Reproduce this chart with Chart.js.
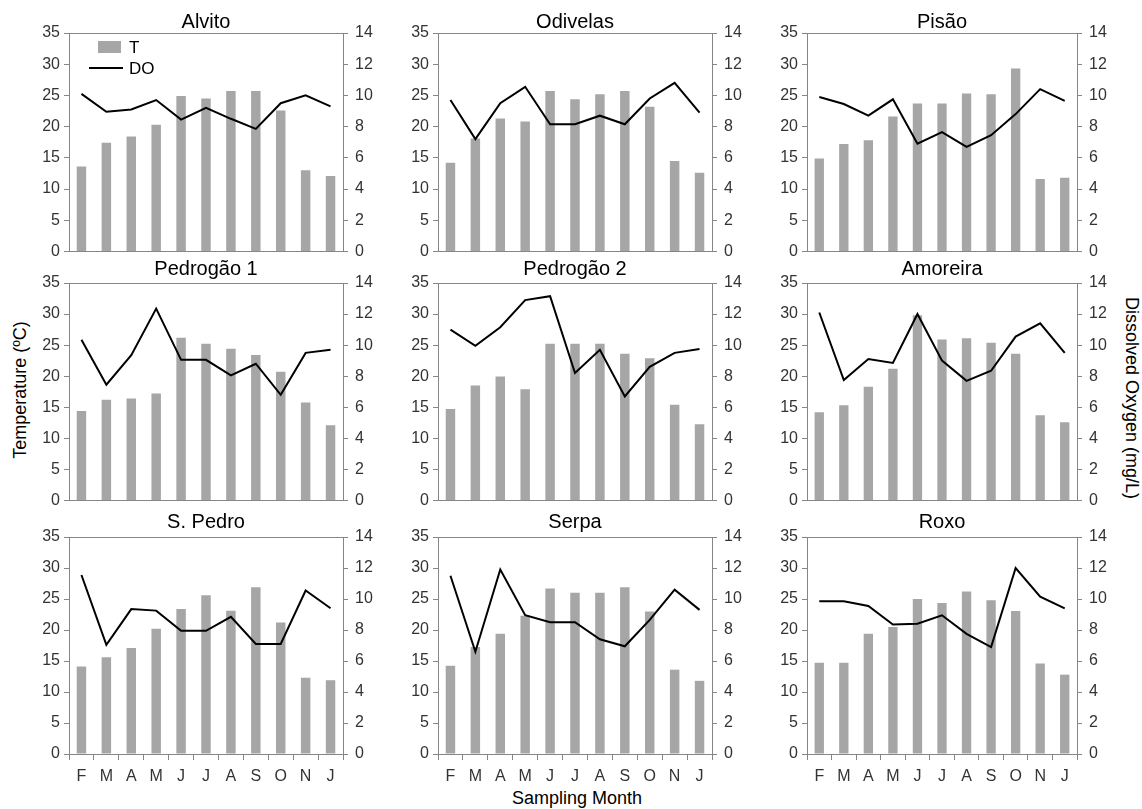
<!DOCTYPE html>
<html>
<head>
<meta charset="utf-8">
<title>Temperature and dissolved oxygen by reservoir</title>
<script src="https://cdn.jsdelivr.net/npm/chart.js@4.4.0/dist/chart.umd.min.js"></script>
<style>
  body { margin: 0; background: #fff; }
  #page { position: relative; width: 1142px; height: 809px; overflow: hidden; background: #fff;
          font-family: "Liberation Sans", Arial, sans-serif; color: #000; }
  #page canvas { position: absolute; }
  .axis-title { position: absolute; font-size: 18px; white-space: nowrap; }
  #yLeftTitle { left: 20px; top: 390px; transform: translate(-50%, -50%) rotate(-90deg); }
  #yRightTitle { left: 1131px; top: 398px; transform: translate(-50%, -50%) rotate(90deg); }
  #xTitle { left: 577px; top: 798px; transform: translate(-50%, -50%); }
</style>
</head>
<body>
<div id="page">
  <div class="axis-title" id="yLeftTitle">Temperature (ºC)</div>
  <div class="axis-title" id="yRightTitle">Dissolved Oxygen (mg/L)</div>
  <div class="axis-title" id="xTitle">Sampling Month</div>
</div>
<script>
const months = ["F", "M", "A", "M", "J", "J", "A", "S", "O", "N", "J"];
const sites = ["Alvito", "Odivelas", "Pisão", "Pedrogão 1", "Pedrogão 2", "Amoreira", "S. Pedro", "Serpa", "Roxo"];
const tempTicks = [0, 5, 10, 15, 20, 25, 30, 35];
const doTicks = [0, 2, 4, 6, 8, 10, 12, 14];

// water temperature (ºC), Feb -> Jan
const tAlvito = [13.6, 17.4, 18.4, 20.3, 24.9, 24.5, 25.7, 25.7, 22.6, 13.0, 12.1];
const tOdivelas = [14.2, 18.1, 21.3, 20.8, 25.7, 24.4, 25.2, 25.7, 23.2, 14.5, 12.6];
const tPisao = [14.9, 17.2, 17.8, 21.6, 23.7, 23.7, 25.3, 25.2, 29.3, 11.6, 11.8];
const tPedrogao1 = [14.4, 16.2, 16.4, 17.2, 26.2, 25.2, 24.4, 23.4, 20.7, 15.75, 12.1];
const tPedrogao2 = [14.7, 18.5, 19.95, 17.9, 25.2, 25.2, 25.2, 23.6, 22.9, 15.4, 12.25];
const tAmoreira = [14.2, 15.3, 18.3, 21.2, 29.8, 25.9, 26.1, 25.4, 23.6, 13.7, 12.6];
const tSPedro = [14.1, 15.6, 17.1, 20.2, 23.4, 25.6, 23.1, 26.9, 21.2, 12.3, 11.9];
const tSerpa = [14.25, 17.25, 19.4, 22.3, 26.7, 26.0, 26.0, 26.9, 23.0, 13.6, 11.8];
const tRoxo = [14.7, 14.7, 19.4, 20.5, 25.0, 24.35, 26.2, 24.8, 23.05, 14.6, 12.8];

// dissolved oxygen (mg/L)
const doAlvito = [10.1, 8.95, 9.1, 9.7, 8.45, 9.2, 8.5, 7.85, 9.5, 10.0, 9.3];
const doOdivelas = [9.7, 7.2, 9.5, 10.55, 8.15, 8.15, 8.7, 8.15, 9.8, 10.8, 8.9];
const doPisao = [9.9, 9.45, 8.7, 9.75, 6.9, 7.65, 6.7, 7.45, 8.8, 10.4, 9.65];
const doPedrogao1 = [10.35, 7.45, 9.35, 12.35, 9.05, 9.05, 8.05, 8.8, 6.8, 9.5, 9.7];
const doPedrogao2 = [11.0, 9.95, 11.15, 12.9, 13.15, 8.2, 9.7, 6.7, 8.6, 9.5, 9.75];
const doAmoreira = [12.1, 7.75, 9.1, 8.85, 12.0, 9.0, 7.7, 8.35, 10.55, 11.4, 9.5];
const doSPedro = [11.55, 7.05, 9.35, 9.25, 7.95, 7.95, 8.85, 7.1, 7.1, 10.55, 9.4];
const doSerpa = [11.5, 6.6, 11.9, 8.95, 8.5, 8.5, 7.4, 6.95, 8.65, 10.6, 9.3];
const doRoxo = [9.85, 9.85, 9.55, 8.35, 8.4, 8.95, 7.75, 6.9, 12.0, 10.15, 9.4];

const tempData = [tAlvito, tOdivelas, tPisao, tPedrogao1, tPedrogao2, tAmoreira, tSPedro, tSerpa, tRoxo];
const doData = [doAlvito, doOdivelas, doPisao, doPedrogao1, doPedrogao2, doAmoreira, doSPedro, doSerpa, doRoxo];

// plot area of each grid column / row, in page px
const colX = [[69, 343], [438, 712], [807, 1077]];
const rowY = [[33, 254], [283, 503], [537, 754]];
const titleLift = [10.5, 13.5, 14.5];

const axisGray = "#868686";
const labelColor = "#333333";
const barGray = "#a6a6a6";
const fontFamily = '"Liberation Sans", Arial, sans-serif';

Chart.defaults.font.family = fontFamily;

// small legend in the upper left of the first panel
const cornerLegend = {
    id: "cornerLegend",
    afterDraw(chart) {
        let ctx = chart.ctx;
        let area = chart.chartArea;
        let line = chart.data.datasets[0];
        let bar = chart.data.datasets[1];
        ctx.save();
        ctx.fillStyle = bar.backgroundColor;
        ctx.fillRect(area.left + 29, area.top + 8, 23, 12);
        ctx.strokeStyle = line.borderColor;
        ctx.lineWidth = line.borderWidth;
        ctx.beginPath();
        ctx.moveTo(area.left + 20, area.top + 35);
        ctx.lineTo(area.left + 54, area.top + 35);
        ctx.stroke();
        ctx.fillStyle = "#000";
        ctx.font = "17px " + fontFamily;
        ctx.textBaseline = "middle";
        ctx.fillText(bar.label, area.left + 60, area.top + 15);
        ctx.fillText(line.label, area.left + 60, area.top + 36);
        ctx.restore();
    }
};

function makePanel(i) {
    let col = i % 3;
    let row = Math.floor(i / 3);
    let [left, right] = colX[col];
    let [top, bottom] = rowY[row];
    let isBottom = row === 2;

    let padTop = 30, padSide = 60;
    let padBottom = isBottom ? 45 : 14;
    let xHeight = isBottom ? 40 : 0;

    let canvas = document.createElement("canvas");
    canvas.width = right - left + 2 * padSide;
    canvas.height = bottom - top + padTop + padBottom;
    canvas.style.width = canvas.width + "px";
    canvas.style.height = canvas.height + "px";
    canvas.style.left = (left - padSide) + "px";
    canvas.style.top = (top - padTop) + "px";
    document.getElementById("page").appendChild(canvas);

    let titleTop = padTop - titleLift[row] - 10;

    new Chart(canvas, {
        type: "bar",
        data: {
            labels: months,
            datasets: [
                {
                    type: "line",
                    label: "DO",
                    data: doData[i],
                    yAxisID: "y2",
                    xAxisID: "x",
                    borderColor: "#000",
                    borderWidth: 2,
                    pointRadius: 0,
                    tension: 0,
                    order: 0
                },
                {
                    type: "bar",
                    label: "T",
                    data: tempData[i],
                    yAxisID: "y",
                    xAxisID: "x",
                    backgroundColor: barGray,
                    categoryPercentage: 1,
                    barPercentage: 0.38,
                    order: 1
                }
            ]
        },
        options: {
            responsive: false,
            animation: false,
            layout: { padding: { top: 0, left: 0, right: 0, bottom: padBottom - xHeight } },
            plugins: {
                legend: { display: false },
                tooltip: { enabled: false },
                title: {
                    display: true,
                    text: sites[i],
                    color: "#000",
                    font: { size: 20, weight: "normal", lineHeight: 1 },
                    padding: { top: titleTop, bottom: padTop - titleTop - 20 }
                }
            },
            scales: {
                x: {
                    type: "category",
                    position: "bottom",
                    offset: true,
                    grid: { display: true, offset: true, drawOnChartArea: false, drawTicks: isBottom, tickLength: 6, color: axisGray },
                    border: { color: axisGray, width: 1 },
                    ticks: { display: isBottom, color: labelColor, font: { size: 16 }, padding: 7, maxRotation: 0, autoSkip: false },
                    afterFit: (scale) => { scale.height = xHeight; }
                },
                xTop: {
                    type: "category",
                    position: "top",
                    labels: months,
                    grid: { display: false, drawTicks: false },
                    border: { color: axisGray, width: 1 },
                    ticks: { display: false },
                    afterFit: (scale) => { scale.height = 0; }
                },
                y: {
                    type: "linear",
                    position: "left",
                    min: 0,
                    max: 35,
                    afterBuildTicks: (scale) => { scale.ticks = tempTicks.map(v => ({ value: v })); },
                    grid: { drawOnChartArea: false, tickLength: 5, color: axisGray },
                    border: { color: axisGray, width: 1 },
                    ticks: { color: labelColor, font: { size: 16 }, padding: 4 },
                    afterFit: (scale) => { scale.width = padSide; }
                },
                y2: {
                    type: "linear",
                    position: "right",
                    min: 0,
                    max: 14,
                    afterBuildTicks: (scale) => { scale.ticks = doTicks.map(v => ({ value: v })); },
                    grid: { drawOnChartArea: false, tickLength: 5, color: axisGray },
                    border: { color: axisGray, width: 1 },
                    ticks: { color: labelColor, font: { size: 16 }, padding: 7 },
                    afterFit: (scale) => { scale.width = padSide; }
                }
            }
        },
        plugins: i === 0 ? [cornerLegend] : []
    });
}

for (let i = 0; i < sites.length; i++) {
    makePanel(i);
}
</script>
</body>
</html>
